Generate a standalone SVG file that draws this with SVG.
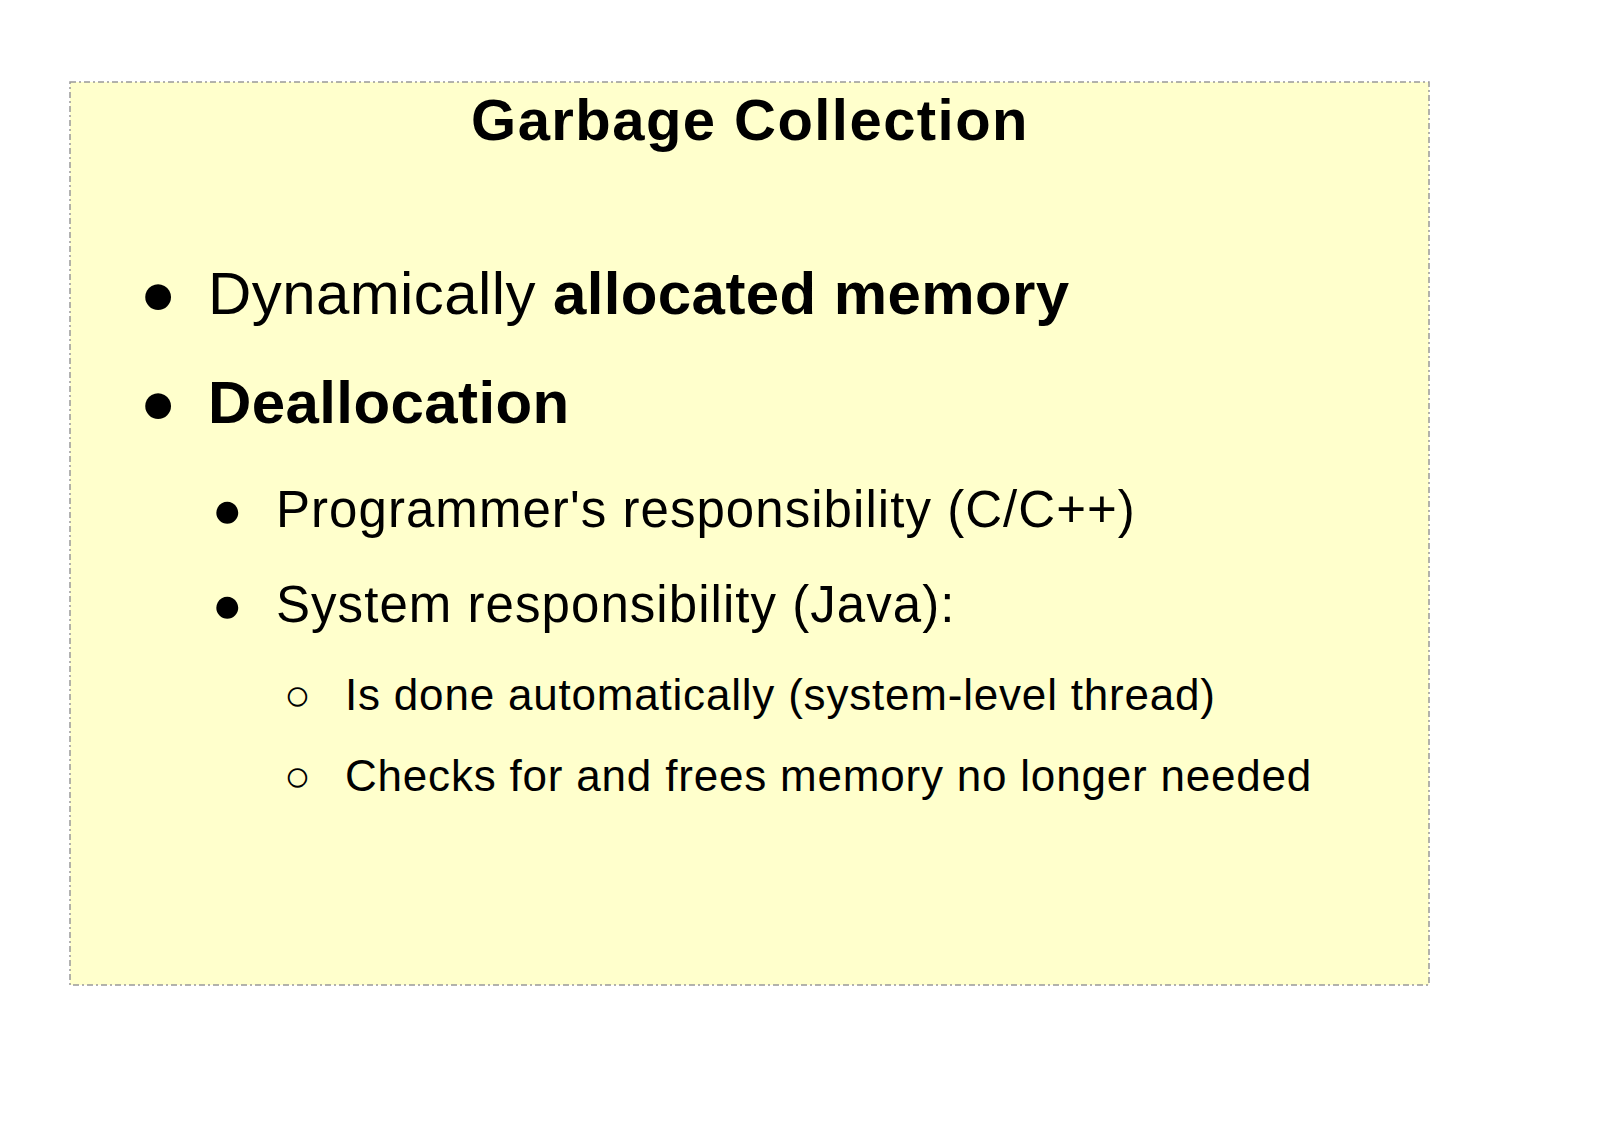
<svg xmlns="http://www.w3.org/2000/svg" width="1600" height="1132" viewBox="0 0 1600 1132">
<style>
text{font-family:"Liberation Sans",Arial,sans-serif;fill:#000}
.b{font-weight:bold}
.l1{font-size:60px;letter-spacing:0.4px}.l2{font-size:51px;letter-spacing:1.05px}.l3{font-size:44px;letter-spacing:0.8px}
</style>
<rect width="1600" height="1132" fill="#fff"/>
<g id="slide">
<rect x="70" y="82" width="1359" height="903" fill="#ffffcc" stroke="#999" stroke-width="1.5" stroke-dasharray="6,3,2,3"/>
<text x="750" y="140" text-anchor="middle" class="b" font-size="58" letter-spacing="1.45">Garbage Collection</text>
<text x="140" y="314" class="l1">●</text>
<text x="208" y="314" class="l1">Dynamically <tspan class="b">allocated memory</tspan></text>
<text x="140" y="423" class="l1">●</text>
<text x="208" y="423" class="l1 b">Deallocation</text>
<text x="212" y="527" class="l2">●</text>
<text x="276" y="527" class="l2">Programmer's responsibility (C/C++)</text>
<text x="212" y="622" class="l2">●</text>
<text x="276" y="622" class="l2">System responsibility (Java):</text>
<text x="284" y="710" class="l3">○</text>
<text x="345" y="710" class="l3">Is done automatically (system-level thread)</text>
<text x="284" y="791" class="l3">○</text>
<text x="345" y="791" class="l3">Checks for and frees memory no longer needed</text>
</g>
</svg>
